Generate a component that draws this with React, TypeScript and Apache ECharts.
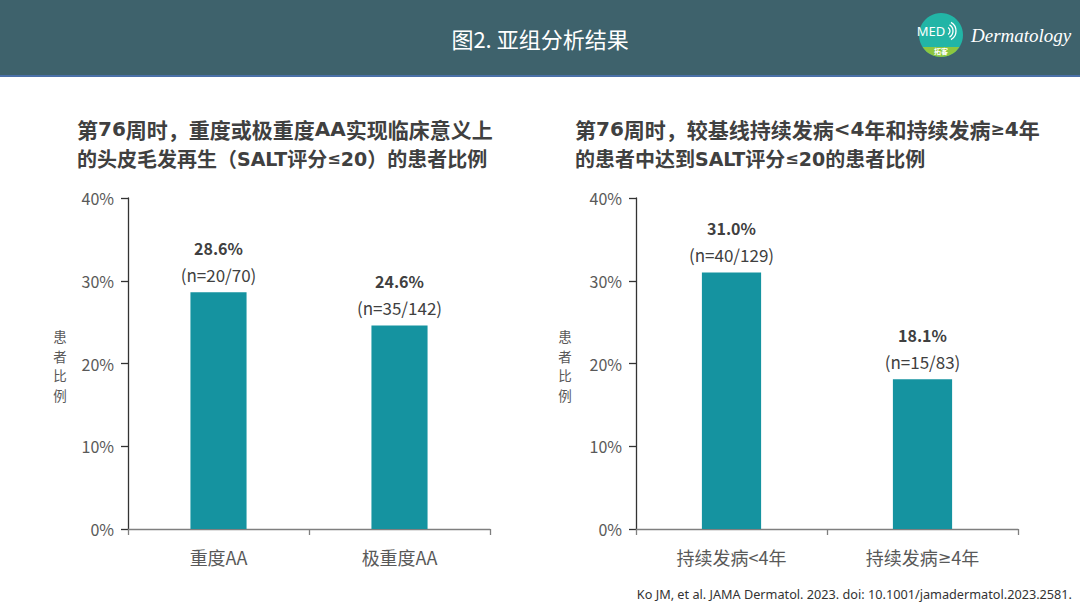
import React, { useEffect, useRef } from "react";
import * as echarts from "echarts";

const leftCategories = ["重度AA", "极重度AA"];
const leftValues = [28.6, 24.6];
const leftCounts = ["(n=20/70)", "(n=35/142)"];

const rightCategories = ["持续发病<4年", "持续发病≥4年"];
const rightValues = [31.0, 18.1];
const rightCounts = ["(n=40/129)", "(n=15/83)"];

const yTicks = { min: 0, max: 40, interval: 10 };

const headerTitle = "图2. 亚组分析结果";
const leftTitle = ["第76周时，重度或极重度AA实现临床意义上", "的头皮毛发再生（SALT评分≤20）的患者比例"];
const rightTitle = ["第76周时，较基线持续发病<4年和持续发病≥4年", "的患者中达到SALT评分≤20的患者比例"];
const yName = "患者比例";
const footnote = "Ko JM, et al. JAMA Dermatol. 2023. doi: 10.1001/jamadermatol.2023.2581.";

const FONT = "'Noto Sans CJK SC', 'Noto Sans', sans-serif";
const SYM = "'DejaVu Sans', sans-serif";
const BAR = "#1593a0";
const TXT = "#595959";
const DARK = "#404040";

// wrap ≤ / ≥ in a rich segment drawn with a narrower font
function symRich(t: string) {
  return t.replace(/([≤≥])/g, "{m|$1}");
}
// titles: Latin runs and ≤/≥ in their own rich segments
function titleRich(t: string) {
  return t.replace(/([A-Za-z0-9<]+)|([≤≥])/g, (_s, lat, sym) => (lat ? `{l|${lat}}` : `{m|${sym}}`));
}

let registered = false;
function registerShapes() {
  if (registered) return;
  registered = true;
  echarts.graphic.registerShape(
    "logo",
    echarts.graphic.extendPath("M -18.4 12 A 22 22 0 0 0 18.4 12 Z", {}) as any
  );
}

function barSeries(values: number[], counts: string[], idx: number) {
  return {
    type: "bar",
    xAxisIndex: idx,
    yAxisIndex: idx,
    barWidth: "31%",
    itemStyle: { color: BAR },
    data: values,
    label: {
      show: true,
      position: "top",
      distance: 7,
      formatter: (p: any) => `{a|${values[p.dataIndex].toFixed(1)}%}\n{b|${counts[p.dataIndex]}}`,
      rich: {
        a: { fontFamily: FONT, fontSize: 16, fontWeight: "bold", color: DARK, lineHeight: 30 },
        b: { fontFamily: FONT, fontSize: 17, color: DARK, lineHeight: 22 },
      },
    },
  };
}

function xAxis(cats: string[], idx: number) {
  return {
    type: "category",
    gridIndex: idx,
    data: cats,
    axisLine: { lineStyle: { color: "#7f7f7f", width: 1.3 } },
    axisTick: { show: true, length: 6, lineStyle: { color: "#7f7f7f", width: 1.3 } },
    axisLabel: {
      interval: 0,
      fontFamily: FONT,
      fontSize: 18,
      color: TXT,
      margin: 19,
      formatter: (v: string) => symRich(v),
      rich: { m: { fontFamily: SYM, fontSize: 16, color: TXT } },
    },
  };
}

function yAxis(idx: number) {
  return {
    type: "value",
    gridIndex: idx,
    min: yTicks.min,
    max: yTicks.max,
    interval: yTicks.interval,
    axisLine: { show: true, lineStyle: { color: "#333", width: 1.3 } },
    axisTick: { show: true, length: 7, lineStyle: { color: "#333", width: 1.3 } },
    splitLine: { show: false },
    axisLabel: { fontFamily: FONT, fontSize: 16, color: TXT, margin: 14, formatter: "{value}%" },
  };
}

function yNameTexts(x: number) {
  return yName.split("").map((ch, i) => ({
    type: "text",
    x,
    y: 336 + i * 19.5,
    style: { text: ch, fontFamily: FONT, fontSize: 13.5, fill: TXT, align: "center", verticalAlign: "middle" },
  }));
}

const titleY = [129, 158.5];
const titleSize = [21, 20];

function titleText(lines: string[], x: number) {
  return lines.map((t, i) => ({
    type: "text",
    x,
    y: titleY[i],
    style: {
      text: titleRich(t),
      fontFamily: FONT,
      fontSize: titleSize[i],
      fontWeight: "bold",
      fill: DARK,
      verticalAlign: "middle",
      rich: {
        l: { fontFamily: SYM, fontSize: titleSize[i] - 1, fontWeight: "bold", fill: DARK },
        m: { fontFamily: SYM, fontSize: titleSize[i] - 4, fontWeight: "bold", fill: DARK },
      },
    },
  }));
}

export default function App() {
  const ref = useRef<HTMLDivElement>(null);
  useEffect(() => {
    document.body.style.margin = "0";
    registerShapes();
    const chart = echarts.init(ref.current!, null, { renderer: "svg" });
    chart.setOption({
      animation: false,
      backgroundColor: "#ffffff",
      grid: [
        { left: 128, top: 198, width: 362, height: 331 },
        { left: 636, top: 198, width: 382, height: 331 },
      ],
      xAxis: [xAxis(leftCategories, 0), xAxis(rightCategories, 1)],
      yAxis: [yAxis(0), yAxis(1)],
      series: [barSeries(leftValues, leftCounts, 0), barSeries(rightValues, rightCounts, 1)],
      graphic: [
        { type: "rect", shape: { x: 0, y: 0, width: 1080, height: 76 }, style: { fill: "#3e626c" } },
        { type: "rect", shape: { x: 0, y: 75, width: 1080, height: 2 }, style: { fill: "#4a70a8" } },
        {
          type: "text",
          x: 540,
          y: 38,
          style: { text: headerTitle, fontFamily: FONT, fontSize: 22, fill: "#ffffff", align: "center", verticalAlign: "middle" },
        },
        { type: "circle", shape: { cx: 941, cy: 35, r: 22 }, style: { fill: "#22b5a6" } },
        { type: "logo", x: 941, y: 35, style: { fill: "#8dc63f" } },
        {
          type: "text",
          x: 931,
          y: 31,
          style: { text: "MED", fontFamily: "'Noto Sans', sans-serif", fontSize: 13, fill: "#ffffff", align: "center", verticalAlign: "middle" },
        },
        { type: "arc", shape: { cx: 946, cy: 31, r: 4, startAngle: -Math.PI / 3, endAngle: Math.PI / 3 }, style: { stroke: "#ffffff", lineWidth: 1.3, fill: "none" } },
        { type: "arc", shape: { cx: 946, cy: 31, r: 7, startAngle: -Math.PI / 3, endAngle: Math.PI / 3 }, style: { stroke: "#ffffff", lineWidth: 1.3, fill: "none" } },
        { type: "arc", shape: { cx: 946, cy: 31, r: 10, startAngle: -Math.PI / 3, endAngle: Math.PI / 3 }, style: { stroke: "#ffffff", lineWidth: 1.3, fill: "none" } },
        {
          type: "text",
          x: 941,
          y: 51,
          style: { text: "拓客", fontFamily: FONT, fontSize: 7, fontWeight: "bold", fill: "#ffffff", align: "center", verticalAlign: "middle" },
        },
        {
          type: "text",
          x: 971,
          y: 35,
          style: { text: "Dermatology", fontFamily: "'Liberation Serif', serif", fontStyle: "italic", fontSize: 19, fill: "#ffffff", verticalAlign: "middle" },
        },
        ...yNameTexts(60),
        ...yNameTexts(565),
        ...titleText(leftTitle, 77),
        ...titleText(rightTitle, 575),
        {
          type: "text",
          right: 8,
          top: 587,
          style: { text: footnote, fontFamily: "'Noto Sans', sans-serif", fontSize: 12.7, fill: "#333333" },
        },
      ],
    });
    return () => chart.dispose();
  }, []);
  return <div ref={ref} style={{ width: 1080, height: 608 }} />;
}
